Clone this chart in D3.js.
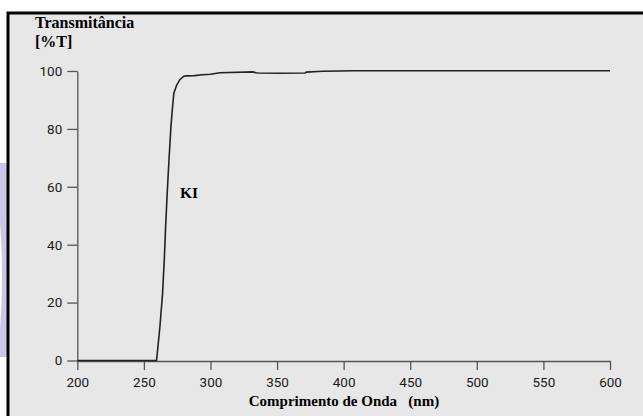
<!DOCTYPE html>
<html>
<head>
<meta charset="utf-8">
<script src="https://cdn.jsdelivr.net/npm/d3@7"></script>
<style>
  body { margin: 0; background: #fff; }
  svg { display: block; }
</style>
</head>
<body>
<svg id="chart" width="643" height="416"></svg>
<script>
// comprimento de onda (nm) e transmitancia (%T)
let comprimento = [200, 259.5, 262, 264, 265.3, 266.3, 267.5, 268.8, 270.3, 271.3, 272.5, 274.5, 277, 280, 282, 288, 294, 300, 307, 332, 334, 336, 352, 371, 372, 384, 397, 407, 500, 600];
let transmit = [0, 0, 11.5, 23, 34.6, 46, 57.7, 69, 80.7, 86.5, 92.3, 95, 97, 98.2, 98.3, 98.4, 98.7, 98.9, 99.4, 99.7, 99.4, 99.3, 99.2, 99.3, 99.6, 99.9, 100, 100.1, 100.1, 100.1];
let xTicks = [200, 250, 300, 350, 400, 450, 500, 550, 600];
let yTicks = [0, 20, 40, 60, 80, 100];

let svg = d3.select("#chart");

// marca lilas na borda esquerda
svg.append("path")
    .attr("d", "M0 163 L7 163 L7 357 L0 357 L0 330 Q4 275 0 222 Z")
    .style("fill", "#cbc6e8");

// painel cinza com borda preta em cima e a esquerda
svg.append("rect")
    .attr("x", 8).attr("y", 13)
    .attr("width", 635).attr("height", 403)
    .style("fill", "#e7e7e7");
svg.append("path")
    .attr("d", "M8 416 L8 13 L643 13")
    .style("fill", "none")
    .style("stroke", "#000")
    .style("stroke-width", 3);

let x = d3.scaleLinear().domain([200, 600]).range([77.3, 610]);
let y = d3.scaleLinear().domain([0, 100]).range([360.5, 71]);

let axeX = svg.append("g")
    .attr("transform", "translate(0,361)")
    .call(d3.axisBottom(x).tickValues(xTicks).tickSize(9).tickSizeOuter(0).tickPadding(7));

let axeY = svg.append("g")
    .attr("transform", "translate(77.3,0)")
    .call(d3.axisLeft(y).tickValues(yTicks).tickSize(10).tickSizeOuter(0).tickPadding(5));

[axeX, axeY].forEach(a => {
    a.selectAll("path, line").style("stroke", "#555").style("stroke-width", 1.3);
    a.selectAll("text")
        .style("font-family", "Roboto, 'Liberation Sans', sans-serif")
        .style("font-size", "13.5px")
        .style("fill", "#1a1a1a");
});

// curva KI
let linha = d3.line()
    .x((d, i) => x(comprimento[i]))
    .y((d) => y(d));

svg.append("path")
    .datum(transmit)
    .attr("d", linha)
    .style("fill", "none")
    .style("stroke", "#222")
    .style("stroke-width", 1.6);

// textos
let serif = "'Liberation Serif', 'DejaVu Serif', serif";

svg.append("text")
    .attr("x", 35).attr("y", 28)
    .text("Transmitância")
    .style("font-family", serif).style("font-weight", "bold").style("font-size", "16px");

svg.append("text")
    .attr("x", 35).attr("y", 47)
    .text("[%T]")
    .style("font-family", serif).style("font-weight", "bold").style("font-size", "16px");

svg.append("text")
    .attr("x", 180).attr("y", 198)
    .text("KI")
    .style("font-family", serif).style("font-weight", "bold").style("font-size", "15.5px");

svg.append("text")
    .attr("x", 344).attr("y", 406)
    .attr("text-anchor", "middle")
    .attr("xml:space", "preserve")
    .text("Comprimento de Onda   (nm)")
    .style("white-space", "pre")
    .style("font-family", serif).style("font-weight", "bold").style("font-size", "15px");
</script>
</body>
</html>
